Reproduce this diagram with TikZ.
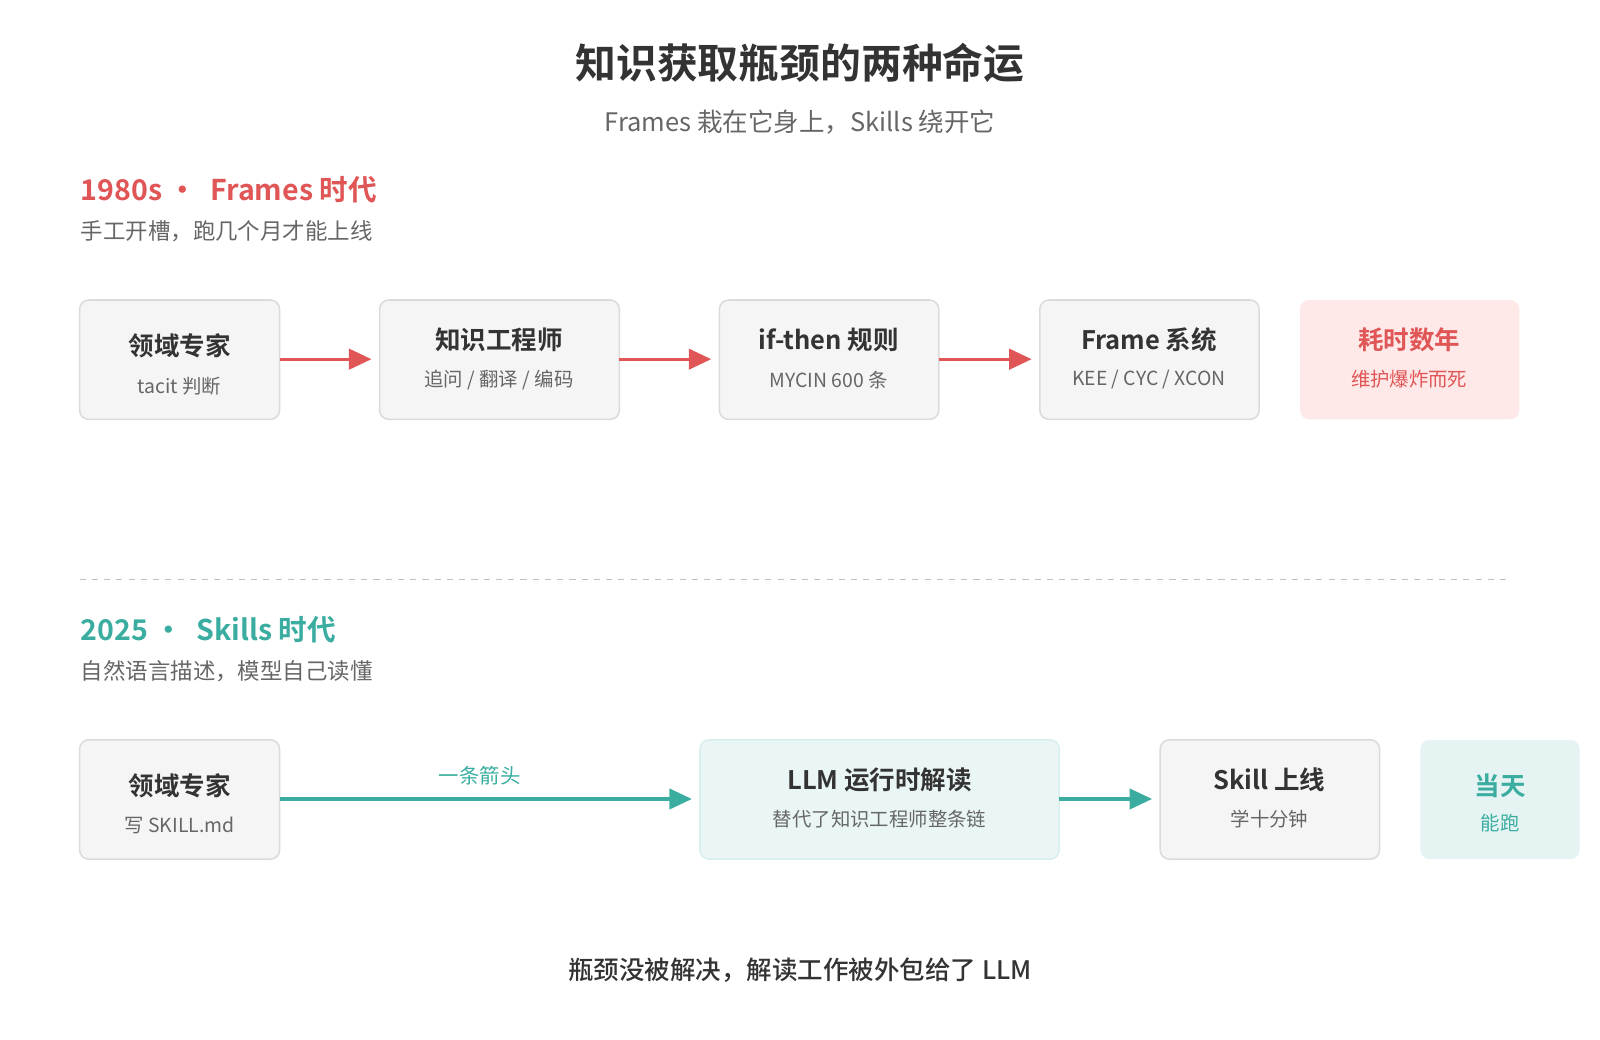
\documentclass[tikz,border=0pt]{standalone}
\usepackage{fontspec}
\setmainfont{Noto Sans CJK SC}[BoldFont={Noto Sans CJK SC Medium}]
\newfontfamily\heavy{Noto Sans CJK SC Bold}
\usetikzlibrary{arrows.meta}
\definecolor{red1}{HTML}{E05555}
\definecolor{teal1}{HTML}{3AADA0}
\definecolor{dark}{HTML}{333333}
\definecolor{mid}{HTML}{666666}
\begin{document}
\begin{tikzpicture}[x=1pt,y=-1pt,
 box/.style={draw=black!14,line width=1.5pt,fill=black!4,rounded corners=9pt},
 pbox/.style={fill=red!9,rounded corners=9pt},
 tbox/.style={fill=teal1!13,rounded corners=9pt},
 lbox/.style={draw=teal1!20,line width=1.5pt,fill=teal1!11,rounded corners=9pt},
 ttl/.style={font=\fontsize{25}{28}\selectfont\heavy,text=dark},
 sub/.style={font=\fontsize{19}{22}\selectfont,text=mid},
 rar/.style={draw=red1,line width=3pt,-{Triangle[length=22pt,width=20pt]}},
 tar/.style={draw=teal1,line width=3pt,-{Triangle[length=22pt,width=20pt]}},
 lab/.style={anchor=west,inner sep=0}]
\useasboundingbox (0,0) rectangle (1568,1019);
\node (title) at (784,62) {\fontsize{40}{44}\selectfont\heavy\color{dark}知识获取瓶颈的两种命运};
\node (stitle) at (784,120) {\fontsize{25}{28}\selectfont\color{mid}Frames 栽在它身上，Skills 绕开它};
\node[lab] (h1) at (79,186) {\fontsize{28}{30}\selectfont\heavy\color{red1}1980s\ • \ Frames 时代};
\node[lab] (d1) at (79,227) {\fontsize{22}{25}\selectfont\color{mid}手工开槽，跑几个月才能上线};
% row 1
\path[box] (78,294) rectangle (274,411); \path[box] (372,294) rectangle (607,411);
\path[box] (705,294) rectangle (920,411); \path[box] (1019,294) rectangle (1234,411);
\path[pbox] (1274,294) rectangle (1489,411);
\node[ttl] (a1) at (176,339) {领域专家}; \node[sub] (a1s) at (176,378) {tacit 判断};
\node[ttl] (a2) at (489,333) {知识工程师}; \node[sub] (a2s) at (489,372) {追问 / 翻译 / 编码};
\node[ttl] (a3) at (812,333) {if-then 规则}; \node[sub] (a3s) at (812,372) {MYCIN 600 条};
\node[ttl] (a4) at (1126,333) {Frame 系统}; \node[sub] (a4s) at (1126,372) {KEE / CYC / XCON};
\node[ttl,text=red1] (a5) at (1381,333) {耗时数年}; \node[sub,text=red1] (a5s) at (1381,372) {维护爆炸而死};
\coordinate (r1a) at (274,352); \coordinate (r1b) at (364,352);
\coordinate (r2a) at (607,352); \coordinate (r2b) at (697,352);
\coordinate (r3a) at (920,352); \coordinate (r3b) at (1011,352);
\draw[rar] (r1a) -- (r1b); \draw[rar] (r2a) -- (r2b); \draw[rar] (r3a) -- (r3b);
% divider
\coordinate (dl) at (78,568); \coordinate (dr) at (1482,568);
\draw[black!25,line width=1.3pt,dash pattern=on 6pt off 6pt] (dl) -- (dr);
\node[lab] (h2) at (79,617) {\fontsize{28}{30}\selectfont\heavy\color{teal1}2025\ • \ Skills 时代};
\node[lab] (d2) at (79,658) {\fontsize{22}{25}\selectfont\color{mid}自然语言描述，模型自己读懂};
% row 2
\path[box] (78,725) rectangle (274,842); \path[lbox] (686,725) rectangle (1038,842);
\path[box] (1137,725) rectangle (1352,842); \path[tbox] (1392,725) rectangle (1548,842);
\node[ttl] (b1) at (176,770) {领域专家}; \node[sub] (b1s) at (176,809) {写 SKILL.md};
\node[ttl] (b2) at (862,764) {LLM 运行时解读}; \node[sub] (b2s) at (862,803) {替代了知识工程师整条链};
\node[ttl] (b3) at (1244,764) {Skill 上线}; \node[sub] (b3s) at (1244,803) {学十分钟};
\node[ttl,text=teal1] (b4) at (1470,770) {当天}; \node[sub,text=teal1] (b4s) at (1470,807) {能跑};
\coordinate (s1a) at (274,783); \coordinate (s1b) at (678,783);
\coordinate (s2a) at (1038,783); \coordinate (s2b) at (1129,783);
\draw[tar] (s1a) -- (s1b); \draw[tar] (s2a) -- (s2b);
\node[font=\fontsize{20}{22}\selectfont,text=teal1] (al) at (470,760) {一条箭头};
\node (foot) at (784,951) {\fontsize{25}{28}\selectfont\bfseries\color{dark}瓶颈没被解决，解读工作被外包给了 LLM};
\end{tikzpicture}
\end{document}
